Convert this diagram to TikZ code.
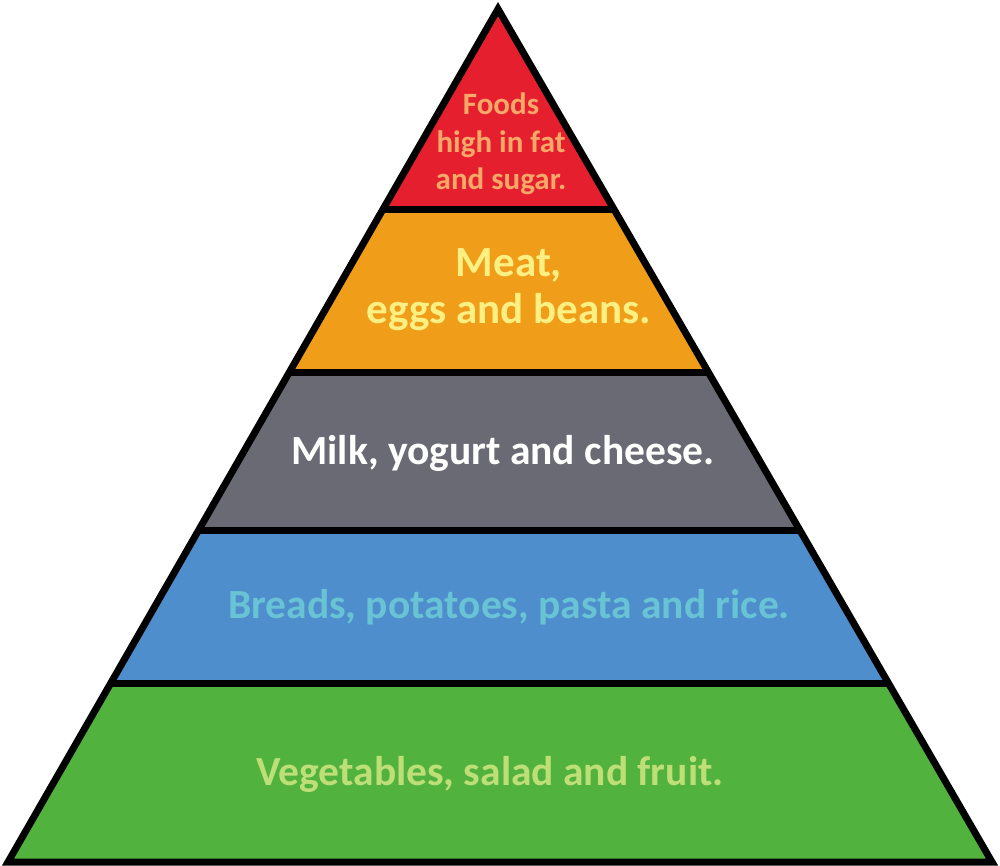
\documentclass[tikz,border=0pt]{standalone}
\usepackage{fontspec}
\setmainfont{Carlito}
\definecolor{redfill}{RGB}{229,31,46}
\definecolor{redtext}{RGB}{248,168,104}
\definecolor{orfill}{RGB}{240,158,26}
\definecolor{ortext}{RGB}{252,240,131}
\definecolor{grfill}{RGB}{106,106,116}
\definecolor{blfill}{RGB}{79,142,204}
\definecolor{bltext}{RGB}{104,195,212}
\definecolor{gnfill}{RGB}{82,178,62}
\definecolor{gntext}{RGB}{190,222,120}
\begin{document}
\begin{tikzpicture}[x=1pt,y=-1pt,
  outline/.style={line width=7pt,black,line join=miter},
  label/.style={inner sep=0pt,anchor=base,align=center,font=\bfseries\fontsize{41.5}{46}\selectfont}]
\useasboundingbox (0,0) rectangle (1000,866);
\coordinate (apex) at (498,9);
\coordinate (bl) at (8,862);
\coordinate (br) at (992,862);
\begin{scope}
\clip (apex) -- (bl) -- (br) -- cycle;
\fill[redfill] (0,0) rectangle (1000,210);
\fill[orfill] (0,210) rectangle (1000,372.5);
\fill[grfill] (0,372.5) rectangle (1000,530);
\fill[blfill] (0,530) rectangle (1000,683.5);
\fill[gnfill] (0,683.5) rectangle (1000,866);
\draw[outline] (0,210) -- (1000,210);
\draw[outline] (0,372.5) -- (1000,372.5);
\draw[outline] (0,530) -- (1000,530);
\draw[outline] (0,683.5) -- (1000,683.5);
\end{scope}
\draw[outline] (apex) -- (bl) -- (br) -- cycle;
\node[label,text=redtext,font=\bfseries\fontsize{31}{37.5}\selectfont] (fat) at (501,190) {Foods\\high in fat\\and sugar.};
\node[label,text=ortext,font=\bfseries\fontsize{43}{46}\selectfont] (meat) at (509,323) {Meat,\\eggs and beans.};
\node[label,text=white] (milk) at (503,464) {Milk, yogurt and cheese.};
\node[label,text=bltext] (bread) at (509,618) {Breads, potatoes, pasta and rice.};
\node[label,text=gntext] (veg) at (490,785) {Vegetables, salad and fruit.};
\end{tikzpicture}
\end{document}
